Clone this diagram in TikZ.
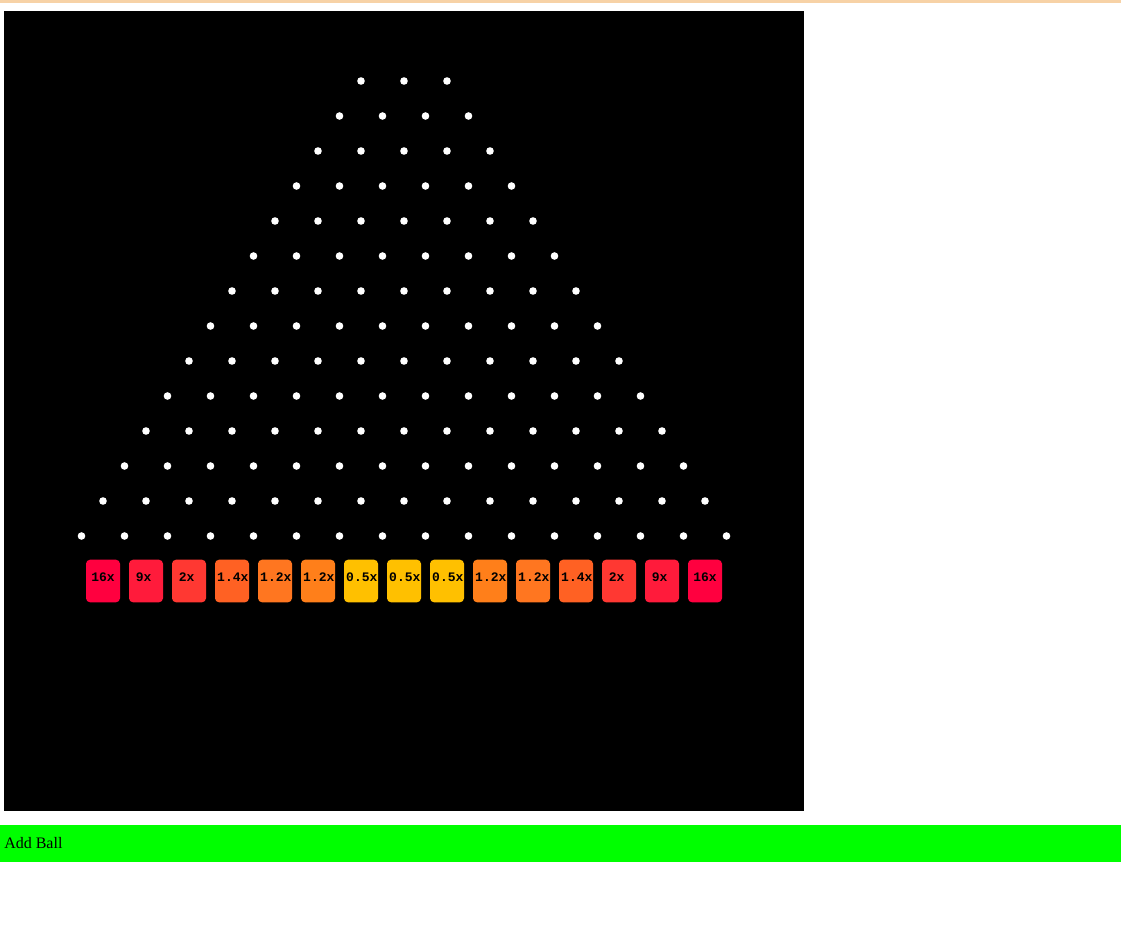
\documentclass[tikz,border=0pt]{standalone}
\usepackage{fontspec}
\setmainfont{Liberation Serif}
\newfontfamily\cupfont{Liberation Mono}
\definecolor{topline}{HTML}{F7D2A6}
\definecolor{addgreen}{HTML}{00FF00}
\definecolor{c16}{HTML}{FF003F}
\definecolor{c9}{HTML}{FF1B3B}
\definecolor{c2}{HTML}{FF3832}
\definecolor{c14}{HTML}{FF6123}
\definecolor{c12a}{HTML}{FF7620}
\definecolor{c12b}{HTML}{FF7F1A}
\definecolor{c05}{HTML}{FFC000}
\begin{document}
\begin{tikzpicture}[x=0.75pt,y=-0.75pt,
    peg/.style={circle,fill=white,inner sep=0pt,minimum size=5.7pt},
    cup/.style={rounded corners=3pt,inner sep=0pt,minimum width=25.5pt,minimum height=31.9pt},
    tag/.style={inner sep=0pt,text height=6pt,text depth=6pt,
      font={\cupfont\bfseries\fontsize{9.75pt}{11pt}\selectfont}},
    short/.style={tag,xshift=-1.8pt},
    long/.style={tag,xshift=0.6pt}]
  \useasboundingbox (0,0) rectangle (1121,935);
  \fill[white] (0,0) rectangle (1121,935);
  \fill[topline] (0,0) rectangle (1121,2.5);
  \fill[black] (4,11) rectangle (804,811);
  \foreach \r in {0,...,13} {
    \pgfmathtruncatemacro\n{\r+2}
    \foreach \k in {0,...,\n}
      \node[peg] (p\r-\k) at ({404+43*(\k-\n/2)},{81+35*\r}) {};
  }
  \path
    (103,581) node[cup,fill=c16,label={[tag]center:16x}] (m0){}
    (146,581) node[cup,fill=c9,label={[short]center:9x}] (m1){}
    (189,581) node[cup,fill=c2,label={[short]center:2x}] (m2){}
    (232,581) node[cup,fill=c14,label={[long]center:1.4x}] (m3){}
    (275,581) node[cup,fill=c12a,label={[long]center:1.2x}] (m4){}
    (318,581) node[cup,fill=c12b,label={[long]center:1.2x}] (m5){}
    (361,581) node[cup,fill=c05,label={[long]center:0.5x}] (m6){}
    (404,581) node[cup,fill=c05,label={[long]center:0.5x}] (m7){}
    (447,581) node[cup,fill=c05,label={[long]center:0.5x}] (m8){}
    (490,581) node[cup,fill=c12b,label={[long]center:1.2x}] (m9){}
    (533,581) node[cup,fill=c12a,label={[long]center:1.2x}] (m10){}
    (576,581) node[cup,fill=c14,label={[long]center:1.4x}] (m11){}
    (619,581) node[cup,fill=c2,label={[short]center:2x}] (m12){}
    (662,581) node[cup,fill=c9,label={[short]center:9x}] (m13){}
    (705,581) node[cup,fill=c16,label={[tag]center:16x}] (m14){};
  \fill[addgreen] (0,825) rectangle (1121,862);
  \node[anchor=base west,inner sep=0pt,font=\fontsize{12pt}{14pt}\selectfont] (addball) at (4,848.5) {Add Ball};
\end{tikzpicture}
\end{document}
